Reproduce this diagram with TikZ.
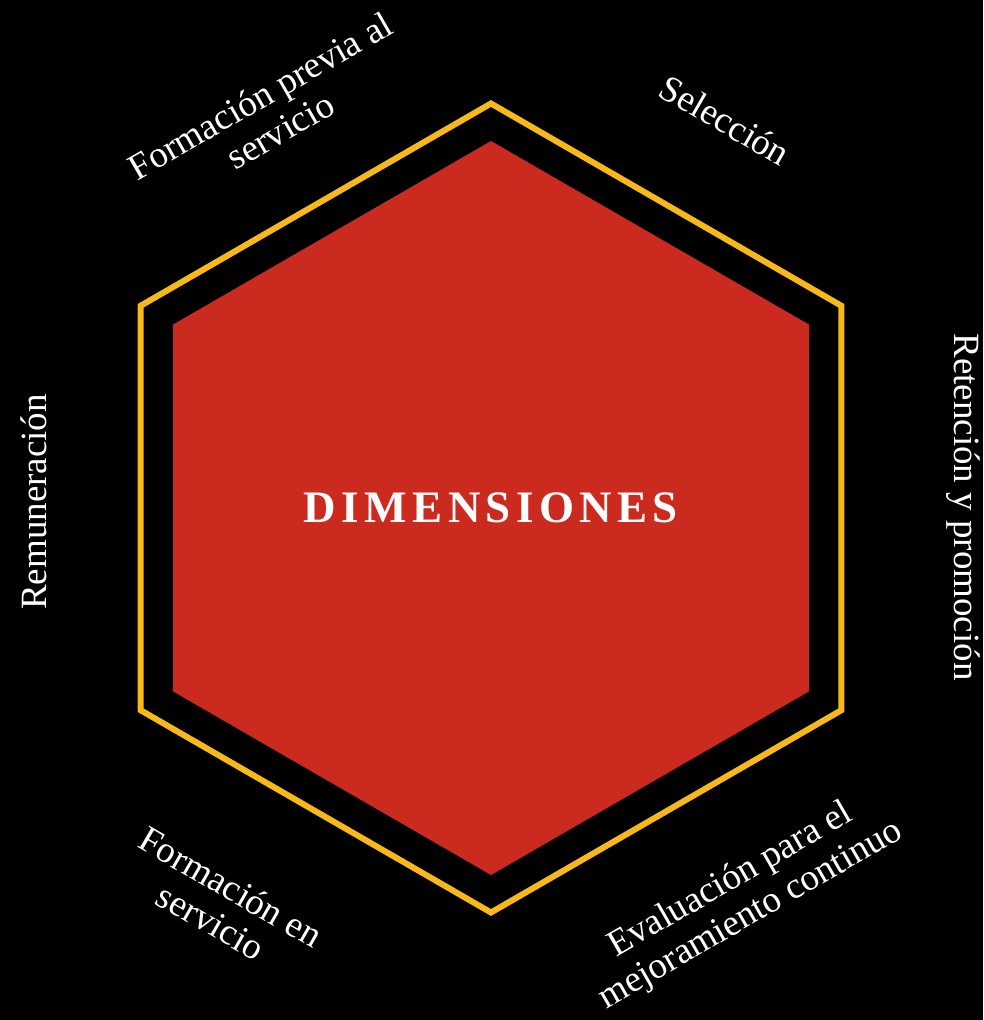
\documentclass[tikz,border=0pt]{standalone}
\usepackage{fontspec}
\setmainfont{Liberation Serif}
\usetikzlibrary{shapes.geometric}
\definecolor{hexred}{HTML}{CB2A1E}
\definecolor{hexgold}{HTML}{F8B918}

\begin{document}
\begin{tikzpicture}[
  x=1pt,y=1pt,
  every node/.style={align=center},
  hex/.style={regular polygon,regular polygon sides=6,shape border rotate=30,inner sep=0pt},
  frame/.style={hex,draw=hexgold,line width=6pt,minimum size=809pt},
  core/.style={hex,fill=hexred,minimum size=734pt,text=white,
    font=\fontsize{45}{50}\selectfont\bfseries\addfontfeature{LetterSpace=12}},
  dim/.style={text=white,font=\fontsize{37}{40}\selectfont,inner sep=0pt}
]
% background and page size
\fill[black] (-491,-512) rectangle (492,508);
\useasboundingbox (-491,-512) rectangle (492,508);

\node[frame] (frame) at (0,0) {};
\node[core] (core) at (0,0) {DIMENSIONES};

% dimensions round the hexagon
\node[dim,rotate=-30] (sel) at (234,388) {Selección};
\node[dim,rotate=30] (prev) at (-221,395) {Formación previa al\\servicio};
\node[dim,rotate=-90] (ret) at (472,1) {Retención y promoción};
\node[dim,rotate=90] (rem) at (-457,6) {Remuneración};
\node[dim,rotate=-30] (serv) at (-270,-396) {Formación en\\servicio};
\node[dim,rotate=30] (eval) at (250,-390) {Evaluación para el\\mejoramiento continuo};
\end{tikzpicture}
\end{document}
